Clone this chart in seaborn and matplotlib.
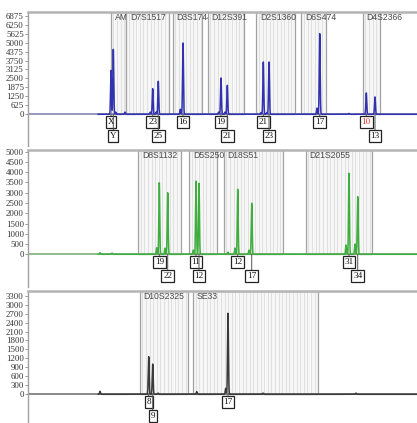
import numpy as np
import matplotlib
matplotlib.use("Agg")
import matplotlib.pyplot as plt
from matplotlib.patches import Rectangle
import seaborn as sns

sns.set_theme(style="white")
plt.rcParams['font.family'] = ['Liberation Sans', 'DejaVu Sans']

# =====================================
# DATA (x = scan position, y = RFU)
# =====================================

# panel 1 - blue dye
blue_loci = ["AM", "D7S1517", "D3S1744", "D12S391", "D2S1360", "D6S474", "D4S2366"]
blue_starts = [111, 126.5, 173, 208, 256.5, 301.5, 363]
blue_ends = [126, 169, 202, 244.5, 295.5, 326, 380.5]
blue_peak_pos = [111, 113.3, 115.7, 125, 150.3, 152.7, 156.2, 158.3, 180.3, 183,
                 218.6, 221, 225, 227.3, 261, 263.3, 266.8, 269, 317, 319.7,
                 349, 366.3, 375]
blue_peak_rfu = [3070, 4530, 150, 150, 150, 1790, 150, 2300, 350, 4970,
                 150, 2530, 150, 2020, 120, 3650, 120, 3650, 430, 5630,
                 60, 1490, 1210]
blue_alleles = ["X", "Y", "23", "25", "16", "19", "21", "21", "23", "17", "10", "13"]
blue_allele_pos = [111, 113.3, 152.7, 158.3, 183, 221, 227.3, 263.3, 269, 319.7, 366.3, 375]
blue_allele_row = [0, 1, 0, 1, 0, 0, 1, 0, 1, 0, 0, 1]
blue_ticks = list(range(0, 6876, 625))

# panel 2 - green dye
green_loci = ["D8S1132", "D5S2500", "D18S51", "D21S2055"]
green_starts = [138.3, 189.3, 224, 306]
green_ends = [181, 217, 283.3, 372.3]
green_peak_pos = [100, 112, 156.7, 159.3, 165, 167.7, 193.3, 196, 199,
                  228, 235, 237.7, 249, 251.7, 346, 349, 355, 357.7]
green_peak_rfu = [80, 60, 320, 3490, 300, 3000, 200, 3570, 3460,
                  100, 300, 3170, 200, 2490, 450, 3950, 500, 2810]
green_alleles = ["19", "22", "11", "12", "12", "17", "31", "34"]
green_allele_pos = [159.3, 167.7, 196, 199, 237.7, 251.7, 349, 357.7]
green_allele_row = [0, 1, 0, 1, 0, 1, 0, 1]
green_ticks = list(range(0, 5001, 500))

# panel 3 - black dye
black_loci = ["D10S2325", "SE33"]
black_starts = [140, 193.3]
black_ends = [188.3, 318.3]
black_peak_pos = [100, 148.7, 152.7, 158, 196.7, 225.7, 228, 263, 356]
black_peak_rfu = [100, 1260, 1010, 40, 90, 200, 2710, 40, 40]
black_alleles = ["8", "9", "17"]
black_allele_pos = [148.7, 152.7, 228]
black_allele_row = [0, 1, 0]
black_ticks = list(range(0, 3301, 300))

panels = [
    dict(loci=blue_loci, starts=blue_starts, ends=blue_ends, pos=blue_peak_pos,
         rfu=blue_peak_rfu, alleles=blue_alleles, apos=blue_allele_pos,
         arow=blue_allele_row, ticks=blue_ticks, color="#3232b0", base="#7c7ca8",
         rect=[28 / 417, 1 - 146 / 423, 389 / 417, 133.7 / 423], ylim=(-2211, 7113)),
    dict(loci=green_loci, starts=green_starts, ends=green_ends, pos=green_peak_pos,
         rfu=green_peak_rfu, alleles=green_alleles, apos=green_allele_pos,
         arow=green_allele_row, ticks=green_ticks, color="#3fae3f", base="#72a872",
         rect=[28 / 417, 1 - 287 / 423, 389 / 417, 136.5 / 423], ylim=(-1594, 5058)),
    dict(loci=black_loci, starts=black_starts, ends=black_ends, pos=black_peak_pos,
         rfu=black_peak_rfu, alleles=black_alleles, apos=black_allele_pos,
         arow=black_allele_row, ticks=black_ticks, color="#3a3a3a", base="#6a6a6a",
         rect=[28 / 417, 0, 389 / 417, 132 / 423], ylim=(-960, 3455)),
]

PX = 0.72  # points per pixel at dpi 100
XMIN, XMAX = 28, 417

fig = plt.figure(figsize=(4.17, 4.23), dpi=100)

for k, p in enumerate(panels):
    ax = fig.add_axes(p["rect"])
    ylo, yhi = p["ylim"]
    ax.set_xlim(XMIN, XMAX)
    ax.set_ylim(ylo, yhi)
    base_frac = -ylo / (yhi - ylo)

    # locus bins
    for i, (name, s, e) in enumerate(zip(p["loci"], p["starts"], p["ends"])):
        ax.axvspan(s, e, ymin=base_frac, ymax=1, facecolor="#f6f6f6",
                   edgecolor="#a2a2a2", lw=0.9, zorder=0)
        ax.vlines(np.arange(s + 2.5, e - 1, 3.6), 0, yhi, color="#dcdcdc",
                  lw=0.6, zorder=0.5)
        nxt = p["starts"][i + 1] if i + 1 < len(p["starts"]) else XMAX
        clip = Rectangle((s, ylo), nxt - s, yhi - ylo, transform=ax.transData)
        t = ax.annotate(name, xy=(s, 1), xycoords=ax.get_xaxis_transform(),
                        xytext=(3.5 * PX, -5.5 * PX), textcoords="offset points",
                        ha="left", va="center", fontsize=6.2, color="#4a4a4a",
                        family=["Liberation Sans", "DejaVu Sans"], zorder=3)
        t.set_clip_path(clip)

    # trace
    x = np.linspace(98, XMAX, 5000)
    y = np.zeros_like(x)
    for pos, h in zip(p["pos"], p["rfu"]):
        y += h * np.exp(-0.5 * ((x - pos) / 0.45) ** 2)
    ax.axhline(0, color=p["base"], lw=1.1, zorder=1)
    sns.lineplot(x=x, y=y, ax=ax, color=p["color"], lw=1.1, sort=False,
                 errorbar=None, estimator=None, zorder=2)

    # allele call boxes
    for lab, xp, row in zip(p["alleles"], p["apos"], p["arow"]):
        dy = -8 if row == 0 else -22
        red = (k == 0 and lab == "10")
        ax.annotate(lab, xy=(xp, 0), xytext=(0, dy * PX), textcoords="offset points",
                    ha="center", va="center", fontsize=6.6,
                    color="#e83232" if red else "#111111",
                    family="Liberation Serif",
                    bbox=dict(boxstyle="square,pad=0.2", fc="white", ec="#222222", lw=0.9),
                    arrowprops=dict(arrowstyle="-", color="#555555", lw=0.7,
                                    shrinkA=0, shrinkB=0),
                    zorder=4, annotation_clip=False)

    ax.set_yticks(p["ticks"])
    ax.set_yticklabels([str(v) for v in p["ticks"]])
    ax.set_xticks([])
    ax.tick_params(axis="y", left=True, length=2, width=0.6, color="#888888",
                   labelsize=6.4, labelcolor="#333333", pad=1)
    for lab in ax.get_yticklabels():
        lab.set_fontfamily("Liberation Serif")
    for side in ["right", "bottom"]:
        ax.spines[side].set_visible(False)
    ax.spines["left"].set_color("#a0a0a0")
    ax.spines["left"].set_linewidth(1.0)
    ax.spines["top"].set_color("#b4b4b4")
    ax.spines["top"].set_linewidth(1.8)
    ax.set_xlabel("")
    ax.set_ylabel("")
    ax.set_facecolor("white")

fig.savefig("out.png", dpi=100)
